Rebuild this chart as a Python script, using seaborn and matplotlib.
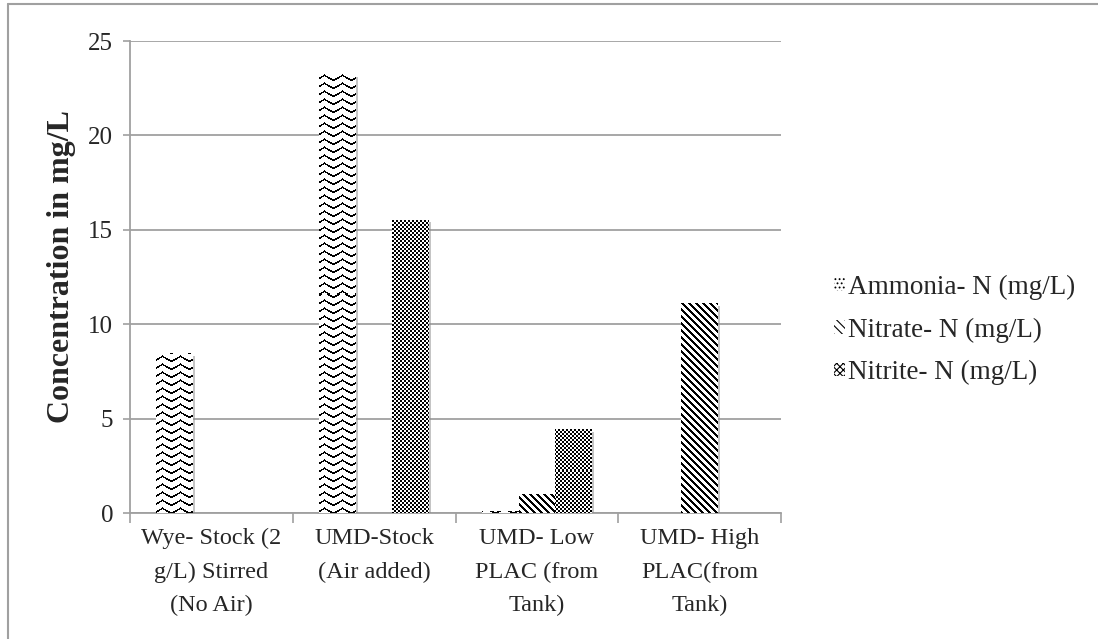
import numpy as np
import pandas as pd
import seaborn as sns
import matplotlib
matplotlib.use("Agg")
import matplotlib.pyplot as plt
from matplotlib.patches import Patch
from matplotlib.lines import Line2D
from matplotlib import patheffects as pe

categories = [
    "Wye- Stock (2\ng/L) Stirred\n(No Air)",
    "UMD-Stock\n(Air added)",
    "UMD- Low\nPLAC (from\nTank)",
    "UMD- High\nPLAC(from\nTank)",
]
series = ["Ammonia- N (mg/L)", "Nitrate- N (mg/L)", "Nitrite- N (mg/L)"]
ammonia = [8.45, 23.2, 0.1, 0.0]
nitrate = [0.0, 0.0, 1.0, 11.1]
nitrite = [0.0, 15.5, 4.4, 0.0]
y_ticks = [0, 5, 10, 15, 20, 25]

sns.set_theme(style="white")
plt.rcParams["font.family"] = ["Liberation Serif", "DejaVu Serif"]
plt.rcParams["hatch.linewidth"] = 0.8

df = pd.DataFrame({
    "category": categories * 3,
    "series": [s for s in series for _ in categories],
    "value": ammonia + nitrate + nitrite,
})

W, H, DPI = 1098, 639, 100
fig = plt.figure(figsize=(W / DPI, H / DPI), dpi=DPI)
ax = fig.add_axes([130 / W, 1 - 513 / H, 651 / W, 472 / H])

sns.barplot(data=df, x="category", y="value", hue="series", order=categories,
            hue_order=series, palette=["white"] * 3, saturation=1,
            edgecolor="none", width=0.675, legend=False, ax=ax, zorder=3)

ax.set_xlim(-0.5, 3.5)
ax.set_ylim(0, 25)
ax.set_yticks(y_ticks)
ax.set_xticks(range(len(categories)))
ax.set_xticks(np.arange(-0.5, len(categories), 1.0), minor=True)

grey = "#a0a0a0"
ax.grid(axis="y", color=grey, linewidth=1.3, zorder=0)
ax.set_axisbelow(True)
for side in ["top", "right"]:
    ax.spines[side].set_visible(False)
for side in ["left", "bottom"]:
    ax.spines[side].set_color(grey)
    ax.spines[side].set_linewidth(1.3)

ax.tick_params(axis="y", which="major", direction="out", length=5, width=1.2,
               color=grey, labelsize=18, pad=7, left=True)
ax.tick_params(axis="x", which="major", length=0, labelsize=17.5, pad=11)
ax.tick_params(axis="x", which="minor", direction="out", length=7, width=1.2,
               color=grey, bottom=True)
for lab in ax.get_xticklabels():
    lab.set_linespacing(1.75)

ax.set_xlabel("")
ax.set_ylabel("Concentration in mg/L", fontsize=23, fontweight="bold")
ax.yaxis.set_label_coords(-0.083, 0.523)


# Fill patterns, built on the screen pixel grid
def wave(X, Y):
    tri = 5.0 * np.abs(2 * ((X % 18) / 18.0) - 1)
    return ((Y + tri) % 8) < 1.8


def diag(X, Y):
    return ((X - Y) % 7) < 3


def checker(X, Y):
    return ((X // 2 + Y // 2) % 2) == 0


patterns = [wave, diag, checker]
to_disp = ax.transData
for cont, pat in zip(ax.containers, patterns):
    for bar in cont:
        h = bar.get_height()
        if h <= 0:
            continue
        x0, x1 = bar.get_x(), bar.get_x() + bar.get_width()
        (px0, py0), (px1, py1) = to_disp.transform([(x0, 0), (x1, h)])
        nw = max(int(round(px1 - px0)), 1)
        nh = max(int(round(py1 - py0)), 1)
        yy, xx = np.mgrid[0:nh, 0:nw]
        X = xx + int(round(px0))
        Y = yy + int(round(H - py1))
        img = np.where(pat(X, Y), 0.0, 1.0)
        bar.set_path_effects([pe.SimplePatchShadow(offset=(1.5, -1.5),
                                                   shadow_rgbFace="0.55",
                                                   alpha=0.5),
                              pe.Normal()])
        ax.imshow(img, cmap="gray", vmin=0, vmax=1, interpolation="nearest",
                  extent=(x0, x1, 0, h), aspect="auto", origin="upper",
                  zorder=4)

ax.set_xlim(-0.5, 3.5)
ax.set_ylim(0, 25)

handles = [
    Patch(facecolor="white", edgecolor="black", hatch="....", linewidth=0),
    Patch(facecolor="white", edgecolor="black", hatch="\\\\\\\\", linewidth=0),
    Patch(facecolor="white", edgecolor="black", hatch="xxxxx", linewidth=0),
]
fig.legend(handles, series, loc="center left",
           bbox_to_anchor=(834 / W, 1 - 330 / H), bbox_transform=fig.transFigure,
           frameon=False, fontsize=19.5, handlelength=0.4, handleheight=0.4,
           handletextpad=0.1, labelspacing=0.65, borderpad=0, borderaxespad=0)

# Chart frame
fig.add_artist(Line2D([8 / W, 8 / W], [0, 1 - 4 / H], transform=fig.transFigure,
                      color=grey, linewidth=1.5))
fig.add_artist(Line2D([8 / W, 1], [1 - 4 / H, 1 - 4 / H], transform=fig.transFigure,
                      color=grey, linewidth=1.5))

fig.savefig("out.png", dpi=DPI, facecolor="white")
